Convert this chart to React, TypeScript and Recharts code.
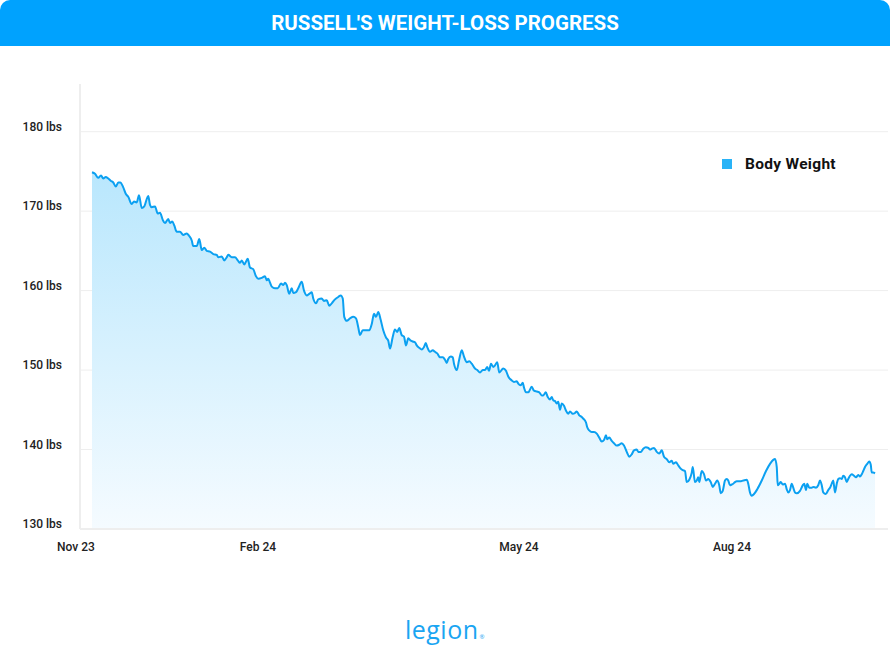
import React from 'react';
import { AreaChart, Area, XAxis, YAxis, CartesianGrid, Legend } from 'recharts';

const chartTitle = "RUSSELL'S WEIGHT-LOSS PROGRESS";
const seriesName = 'Body Weight';

// sample position along the time axis (compressed day index)
const dayIndex = [
  0, 1.2, 2.5, 3.6, 4.5, 5.5, 6.5, 7.6, 8.5, 9.5, 10.5, 11.3, 12.5, 13.5, 14.5, 15.9, 16.8, 17.9, 18.8, 19.9,
  20.9, 22.5, 23.2, 23.9, 25.2, 26.3, 27.2, 28.3, 29.2, 30.5, 31.2, 32.1, 32.9, 33.9, 35.2, 36.5, 37.9, 38.8, 39.9, 40.5,
  41.9, 42.9, 43.9, 44.9, 45.9, 47.2, 48.5, 49.9, 50.5, 51.9, 52.9, 53.9, 54.5, 55.9, 57.2, 58.3, 59.2, 59.9, 60.9, 62.3,
  63.2, 64.5, 65.6, 66.5, 67.9, 69.2, 69.9, 70.5, 71.2, 71.9, 73.2, 74.3, 75.6, 76.5, 77.2, 77.9, 78.9, 79.9, 80.5, 81.6,
  82.5, 83.9, 84.8, 85.9, 86.9, 87.9, 88.5, 89.6, 90.5, 91.9, 92.8, 93.9, 94.9, 95.9, 97.2, 98.5, 99.5, 100.3, 100.9, 101.9,
  103.2, 104.5, 105.6, 106.5, 107.2, 108.3, 109.6, 110.9, 111.9, 112.8, 113.6, 114.5, 115.5, 116.5, 117.6, 118.5, 119.2, 120.3, 121.2, 122.1,
  122.9, 123.9, 124.8, 125.6, 126.5, 127.5, 128.3, 129.2, 129.9, 130.9, 131.9, 132.8, 133.5, 134.1, 135.2, 136.3, 137.2, 138.1, 139.2, 140.3,
  141.2, 141.9, 142.5, 143.5, 144.3, 144.8, 145.9, 146.8, 147.9, 148.8, 149.9, 150.9, 151.9, 153.2, 154.1, 155.2, 156.3, 157.2, 158.1, 158.8,
  159.6, 160.5, 161.2, 162.1, 162.9, 164.5, 165.6, 166.5, 167.9, 168.8, 169.9, 170.5, 171.5, 172.3, 172.8, 173.6, 174.5, 175.9, 176.8, 177.9,
  178.9, 179.9, 180.5, 181.5, 182.3, 183.2, 183.9, 184.5, 185.2, 185.9, 186.5, 187.2, 187.9, 188.8, 189.6, 190.5, 191.2, 192.3, 193.2, 193.9,
  194.9, 195.9, 196.5, 197.6, 198.1, 198.9, 199.9, 200.8, 201.9, 202.9, 203.9, 204.8, 205.6, 206.1, 206.9, 207.9, 208.8, 209.9, 210.9, 211.9,
  212.8, 213.9, 214.9, 215.9, 216.8, 217.9, 218.5, 219.5, 220.5, 221.5, 222.5, 223.2, 223.9, 224.8, 225.9, 226.9, 227.9, 228.8, 229.9, 230.9,
  231.9, 232.5, 233.6, 234.5, 235.2, 236.3, 237.2, 237.9, 238.9, 239.9, 240.3, 241.2, 241.9, 242.5, 242.9, 243.9, 244.8, 245.6, 246.5, 247.5,
  248.3, 249.2, 250.1, 250.9, 251.5, 252.3, 253.2, 253.9, 254.5, 255.2, 255.9, 256.5, 257.2, 257.9, 259.2, 260.5, 261.9, 262.5, 263.2, 263.9,
  264.8, 266.1, 267.9, 269.6, 271.2, 272.5, 273.2, 273.9, 274.3, 274.9, 275.5, 276.3, 277.2, 277.9, 278.5, 279.2, 279.9, 280.5, 281.2, 281.9,
  283.2, 284.3, 284.9, 285.6, 286.1, 286.9, 287.9, 288.5, 289.6, 290.5, 291.2, 291.9, 292.5, 293.5, 294.5, 295.2, 295.9, 296.5, 297.2, 297.9,
  298.5, 299.2, 299.9, 300.5, 301.2, 301.9, 302.5, 303.2, 303.9, 304.8, 305.6, 306.5, 307.2, 307.9, 308.5, 309.2, 310.1, 310.9, 311.5, 311.9,
  312.5, 313.2,
];

// body weight in lbs
const bodyWeight = [
  174.9, 174.7, 174.2, 174.5, 174.1, 174.3, 174.1, 173.8, 173.6, 173.1, 173.6, 173.6, 173.0, 172.2, 171.8, 170.9, 171.2, 171.1, 172.0, 170.4,
  170.6, 171.9, 170.8, 170.5, 170.6, 169.7, 169.8, 168.9, 168.5, 169.0, 168.5, 168.7, 168.2, 167.4, 167.4, 167.0, 167.2, 166.9, 166.3, 165.6,
  165.6, 166.5, 165.1, 165.4, 165.0, 164.9, 164.6, 164.5, 164.2, 164.3, 163.8, 164.2, 164.5, 164.2, 164.2, 163.8, 163.5, 163.8, 163.3, 164.0,
  162.9, 162.7, 161.8, 161.5, 161.6, 161.8, 161.3, 161.5, 161.0, 160.5, 160.3, 160.3, 160.9, 160.7, 161.0, 160.7, 159.6, 160.3, 159.7, 159.8,
  160.3, 161.1, 160.0, 159.4, 159.6, 159.8, 159.0, 158.4, 158.9, 159.0, 158.7, 158.8, 158.1, 158.4, 158.9, 159.2, 159.4, 159.0, 156.7, 156.2,
  156.5, 156.7, 156.5, 155.4, 154.4, 155.0, 155.0, 155.0, 155.8, 157.1, 156.7, 157.3, 156.3, 155.0, 154.1, 153.7, 152.7, 154.2, 155.1, 154.8,
  155.3, 154.4, 154.2, 153.1, 154.0, 153.7, 153.6, 153.5, 153.1, 152.8, 152.6, 152.9, 153.4, 152.9, 152.3, 152.5, 152.3, 152.1, 151.6, 151.6,
  151.3, 150.9, 151.4, 151.7, 151.6, 150.8, 150.0, 151.2, 152.5, 151.7, 151.0, 151.1, 150.8, 150.2, 150.0, 149.7, 150.0, 150.0, 150.4, 149.9,
  150.8, 150.4, 150.6, 151.0, 149.7, 150.2, 149.9, 149.2, 148.7, 148.5, 148.6, 148.3, 148.1, 148.4, 147.8, 147.2, 147.2, 147.9, 147.4, 147.3,
  147.2, 146.8, 146.8, 147.2, 146.6, 146.3, 146.6, 146.2, 146.1, 145.8, 146.0, 145.0, 145.8, 145.5, 144.9, 144.5, 144.8, 144.5, 144.6, 144.8,
  144.3, 144.1, 143.9, 143.4, 142.8, 142.4, 142.2, 142.2, 142.0, 141.5, 141.0, 141.2, 141.8, 141.3, 141.5, 141.1, 140.8, 140.5, 140.6, 140.8,
  140.5, 139.7, 139.1, 139.4, 139.9, 140.0, 139.7, 139.7, 140.1, 140.3, 140.2, 140.0, 140.1, 140.2, 139.7, 139.5, 139.9, 139.1, 138.8, 138.4,
  138.6, 138.2, 138.4, 138.0, 137.7, 137.4, 137.3, 135.9, 136.2, 137.1, 137.8, 135.9, 136.1, 136.5, 135.9, 137.3, 136.9, 136.1, 136.3, 135.9,
  135.3, 135.7, 136.1, 135.5, 134.5, 134.8, 136.1, 136.3, 136.1, 135.5, 135.6, 135.7, 135.9, 136.0, 136.0, 136.1, 136.2, 135.7, 134.6, 134.2,
  134.4, 135.0, 136.1, 137.3, 138.2, 138.7, 138.8, 137.8, 135.5, 135.7, 135.9, 135.6, 135.7, 135.0, 134.6, 134.9, 135.7, 135.2, 134.6, 134.5,
  134.8, 135.5, 135.7, 134.9, 135.7, 135.2, 135.2, 135.3, 135.2, 135.5, 136.1, 135.5, 134.6, 134.4, 134.9, 135.2, 135.7, 136.1, 134.6, 135.7,
  136.3, 136.4, 136.3, 136.7, 136.5, 135.9, 136.3, 136.7, 136.9, 136.7, 136.5, 136.8, 136.6, 136.9, 137.3, 137.8, 138.2, 138.5, 138.1, 137.1,
  137.1, 137.0,
];

const xTickDays = [-6.4, 66.4, 170.8, 256];
const xTickLabels = ['Nov 23', 'Feb 24', 'May 24', 'Aug 24'];
const yTicks = [130, 140, 150, 160, 170, 180];
const yDomain = [130, 186];
const xDomain = [-4.8, 318.4];

const data = dayIndex.map((d, i) => ({ day: d, weight: bodyWeight[i] }));

const FONT = 'Roboto, "Open Sans", sans-serif';

const YTick = (props: any) => {
  const { x, y, payload } = props;
  return (
    <text
      x={x}
      y={y - 5}
      textAnchor="end"
      dominantBaseline="central"
      fontSize={12}
      fontFamily={FONT}
      fontWeight={500}
      fill="#222"
    >
      {`${payload.value} lbs`}
    </text>
  );
};

const LegendContent = (props: any) => {
  const items = props.payload || [];
  return (
    <div style={{ display: 'flex', flexDirection: 'column' }}>
      {items.map((it: any) => (
        <div key={it.value} style={{ display: 'flex', alignItems: 'center', height: 20 }}>
          <span style={{ display: 'inline-block', width: 10, height: 10, background: '#29B3F7' }} />
          <span
            style={{
              marginLeft: 13,
              fontFamily: FONT,
              fontWeight: 700,
              fontSize: 15.5,
              letterSpacing: 0.3,
              color: '#111',
            }}
          >
            {it.value}
          </span>
        </div>
      ))}
    </div>
  );
};

export default function App() {
  return (
    <div
      style={{
        position: 'absolute',
        left: 0,
        top: 0,
        width: 890,
        height: 670,
        background: '#fff',
        overflow: 'hidden',
      }}
    >
      <AreaChart
        width={890}
        height={670}
        data={data}
        margin={{ top: 84, right: 2, bottom: 0, left: 0 }}
      >
        <defs>
          <linearGradient id="weightFill" x1="0" y1="0" x2="0" y2="1">
            <stop offset="0%" stopColor="#B9E7FD" />
            <stop offset="100%" stopColor="#F5FBFF" />
          </linearGradient>
        </defs>
        <CartesianGrid vertical={false} stroke="#EEEEEE" horizontalValues={yTicks} />
        <XAxis
          dataKey="day"
          type="number"
          domain={xDomain}
          ticks={xTickDays}
          interval={0}
          allowDataOverflow
          tickFormatter={(v: number) => xTickLabels[xTickDays.indexOf(v)] ?? ''}
          tickLine={false}
          axisLine={{ stroke: '#EEEEEE', strokeWidth: 2 }}
          height={141}
          tickMargin={7}
          tick={{ fontSize: 12, fill: '#222', fontFamily: FONT, fontWeight: 500 }}
        />
        <YAxis
          type="number"
          domain={yDomain}
          ticks={yTicks}
          interval={0}
          width={80}
          tickLine={false}
          tickMargin={12}
          axisLine={{ stroke: '#EEEEEE', strokeWidth: 2 }}
          tick={<YTick />}
        />
        <Legend
          verticalAlign="middle"
          align="center"
          layout="horizontal"
          wrapperStyle={{ top: 154, left: 722, width: 160, height: 20 }}
          content={<LegendContent />}
        />
        <Area
          type="monotone"
          dataKey="weight"
          name={seriesName}
          stroke="#0BA0F1"
          strokeWidth={2}
          fill="url(#weightFill)"
          fillOpacity={1}
          dot={false}
          activeDot={false}
          isAnimationActive={false}
          baseValue={130}
        />
      </AreaChart>
      <div
        style={{
          position: 'absolute',
          left: 0,
          top: 0,
          width: 890,
          height: 46,
          background: '#00A2FE',
          borderRadius: '10px 10px 0 0',
          color: '#fff',
          display: 'flex',
          alignItems: 'center',
          justifyContent: 'center',
          fontFamily: FONT,
          fontWeight: 700,
          fontSize: 20.5,
          letterSpacing: 0,
        }}
      >
        {chartTitle}
      </div>
      <div
        style={{
          position: 'absolute',
          left: 0,
          top: 612,
          width: 890,
          textAlign: 'center',
          fontFamily: '"Open Sans", sans-serif',
          fontSize: 25,
          color: '#1AA5F2',
          letterSpacing: 0.5,
        }}
      >
        legion<span style={{ fontSize: 6, verticalAlign: 'baseline', marginLeft: 1 }}>®</span>
      </div>
    </div>
  );
}
